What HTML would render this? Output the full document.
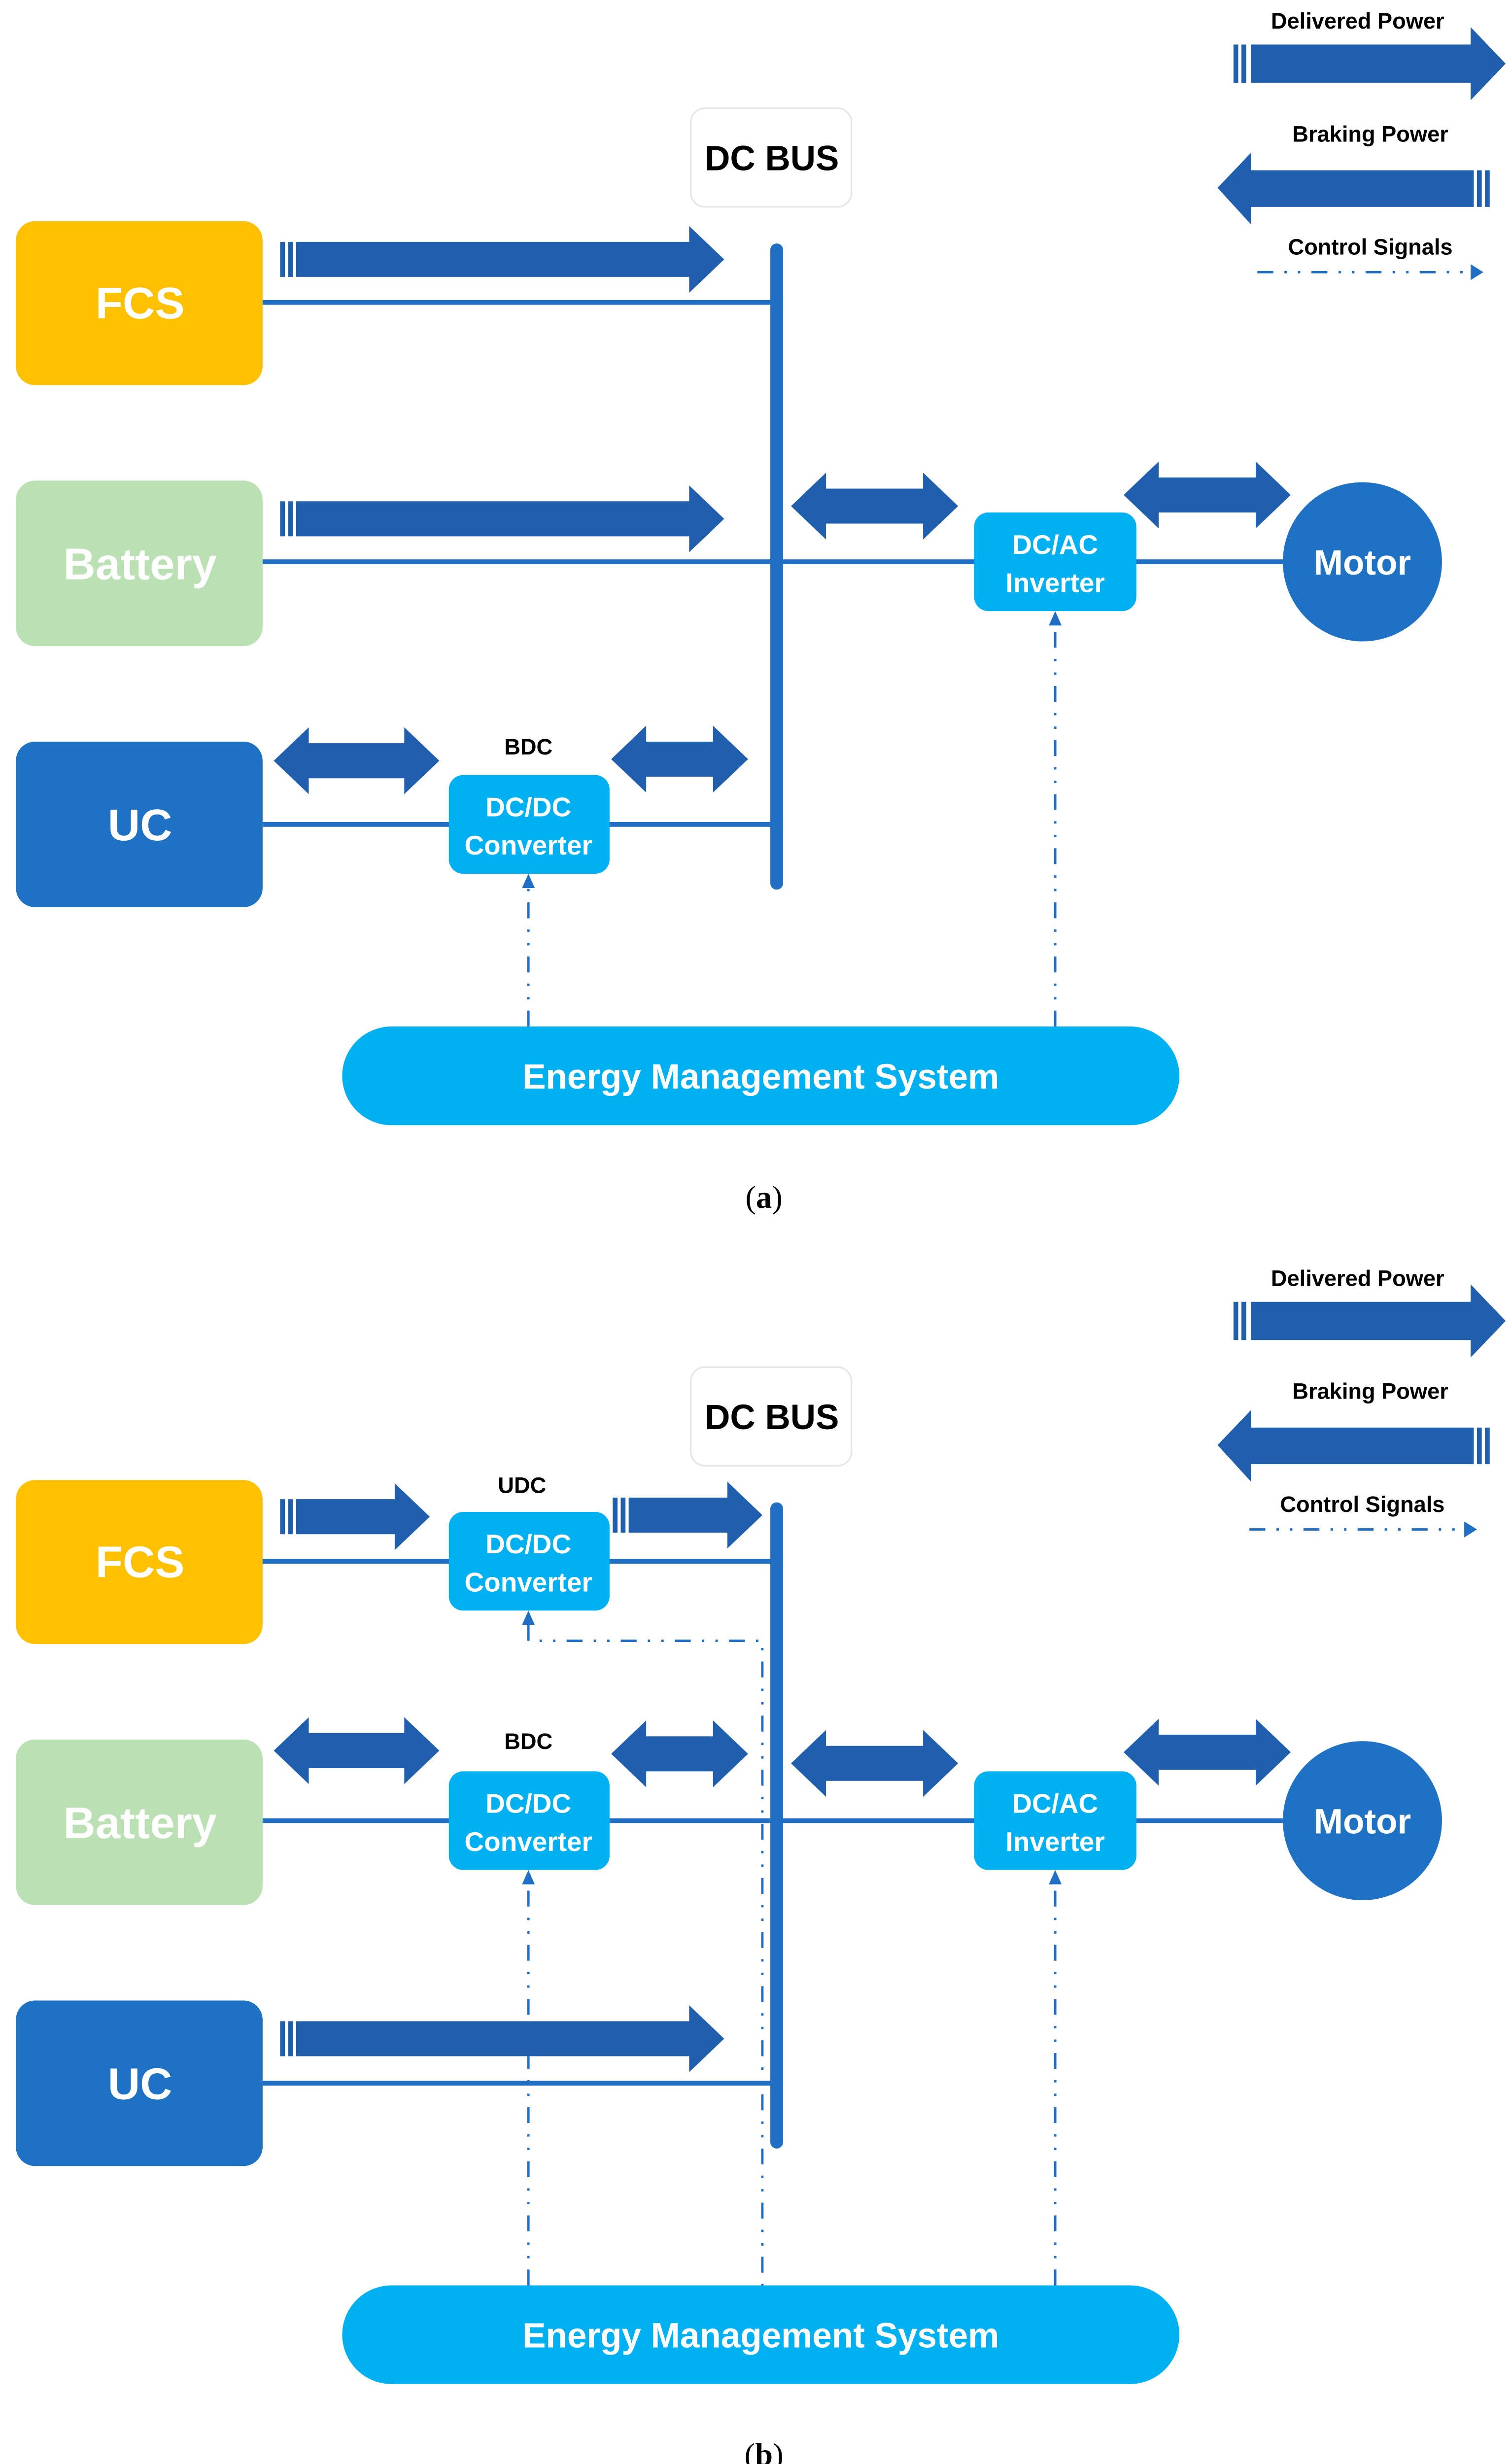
<!DOCTYPE html>
<html><head><meta charset="utf-8"><style>
html,body{margin:0;padding:0;background:#fff;width:3068px;height:5059px;overflow:hidden;}
svg{display:block;position:absolute;left:0;top:0;}
text{font-family:"Liberation Sans",Arial,sans-serif;font-weight:bold;}
</style></head><body>
<svg width="3068" height="5059" viewBox="0 0 950 1566.5" preserveAspectRatio="none" xmlns="http://www.w3.org/2000/svg">
<defs>
<g id="legend">
  <text x="853" y="18" font-size="14" text-anchor="middle" fill="#000">Delivered Power</text>
  <rect x="775" y="28" width="3" height="24" fill="#1F5FAD"/><rect x="780" y="28" width="3" height="24" fill="#1F5FAD"/>
  <path d="M786,28 H924 V17 L946,40 L924,63 V52 H786Z" fill="#1F5FAD"/>
  <text x="861" y="89" font-size="14" text-anchor="middle" fill="#000">Braking Power</text>
  <path d="M765,118 L786,96 V107 H926 V130 H786 V141Z" fill="#1F5FAD"/>
  <rect x="928" y="107" width="3" height="23" fill="#1F5FAD"/><rect x="933" y="107" width="3" height="23" fill="#1F5FAD"/>
</g>
</defs>
<g stroke="none">
<use href="#legend"/>
<text x="861" y="160" font-size="14" text-anchor="middle" fill="#000">Control Signals</text>
<line x1="790" y1="171" x2="925" y2="171" stroke="#1F6FC5" stroke-width="1.5" stroke-dasharray="10 7 1.5 7 1.5 7"/>
<path d="M924,166 L932,171 L924,176Z" fill="#1F6FC5"/>

<rect x="434" y="68" width="101" height="62" rx="9" fill="#fff" stroke="#e6e6e6" stroke-width="1"/>
<text x="485" y="107" font-size="22" text-anchor="middle" fill="#000">DC BUS</text>

<rect x="10" y="139" width="155" height="103" rx="12" fill="#FFC000"/>
<text x="88" y="200" font-size="28" text-anchor="middle" fill="#fff">FCS</text>
<rect x="10" y="302" width="155" height="104" rx="12" fill="#BBE0B3"/>
<text x="88" y="364" font-size="28" text-anchor="middle" fill="#fff">Battery</text>
<rect x="10" y="466" width="155" height="104" rx="12" fill="#1F71C4"/>
<text x="88" y="528" font-size="28" text-anchor="middle" fill="#fff">UC</text>

<g stroke="#1F6FC5" stroke-width="3">
<line x1="165" y1="190" x2="488" y2="190"/>
<line x1="165" y1="353" x2="806" y2="353"/>
<line x1="165" y1="518" x2="488" y2="518"/>
</g>
<line x1="488" y1="157" x2="488" y2="555" stroke="#1F6FC5" stroke-width="8" stroke-linecap="round"/>

<rect x="612" y="322" width="102" height="62" rx="9" fill="#00B0F0"/>
<text x="663" y="348" font-size="17" text-anchor="middle" fill="#fff">DC/AC</text>
<text x="663" y="372" font-size="17" text-anchor="middle" fill="#fff">Inverter</text>
<circle cx="856" cy="353" r="50" fill="#1F71C4"/>
<text x="856" y="361" font-size="22" text-anchor="middle" fill="#fff">Motor</text>

<text x="332" y="474" font-size="14" text-anchor="middle" fill="#000">BDC</text>
<rect x="282" y="487" width="101" height="62" rx="9" fill="#00B0F0"/>
<text x="332" y="513" font-size="17" text-anchor="middle" fill="#fff">DC/DC</text>
<text x="332" y="537" font-size="17" text-anchor="middle" fill="#fff">Converter</text>

<g fill="#1F5FAD">
<rect x="176" y="152" width="3" height="22"/><rect x="181" y="152" width="3" height="22"/>
<path d="M186,152 H433 V142 L455,163 L433,184 V174 H186Z"/>
<rect x="176" y="315" width="3" height="22"/><rect x="181" y="315" width="3" height="22"/>
<path d="M186,315 H433 V305 L455,326 L433,347 V337 H186Z"/>
<path d="M172,478 L194,457 V467 H254 V457 L276,478 L254,499 V489 H194 V499Z"/>
<path d="M384,477 L406,456 V466 H448 V456 L470,477 L448,498 V488 H406 V498Z"/>
<path d="M497,318 L519,297 V307 H580 V297 L602,318 L580,339 V329 H519 V339Z"/>
<path d="M706,311 L728,290 V300 H789 V290 L811,311 L789,332 V322 H728 V332Z"/>
</g>

<g stroke="#1F6FC5" stroke-width="1.5" stroke-dasharray="10 7 1.5 7 1.5 7">
<line x1="332" y1="645" x2="332" y2="558"/>
<line x1="663" y1="645" x2="663" y2="393"/>
</g>
<path d="M332,549 L328,558 L336,558Z" fill="#1F6FC5"/>
<path d="M663,384 L659,393 L667,393Z" fill="#1F6FC5"/>

<rect x="215" y="645" width="526" height="62" rx="31" fill="#00B0F0"/>
<text x="478" y="684" font-size="22" text-anchor="middle" fill="#fff">Energy Management System</text>
<text x="480" y="759" font-size="20" text-anchor="middle" fill="#000" style="font-family:'Liberation Serif',serif;font-weight:normal">(<tspan font-weight="bold">a</tspan>)</text>

<use href="#legend" transform="translate(0,790)"/>
<text x="856" y="950" font-size="14" text-anchor="middle" fill="#000">Control Signals</text>
<line x1="785" y1="961" x2="921" y2="961" stroke="#1F6FC5" stroke-width="1.5" stroke-dasharray="10 7 1.5 7 1.5 7"/>
<path d="M920,956 L928,961 L920,966Z" fill="#1F6FC5"/>

<rect x="434" y="859" width="101" height="62" rx="9" fill="#fff" stroke="#e6e6e6" stroke-width="1"/>
<text x="485" y="898" font-size="22" text-anchor="middle" fill="#000">DC BUS</text>

<rect x="10" y="930" width="155" height="103" rx="12" fill="#FFC000"/>
<text x="88" y="991" font-size="28" text-anchor="middle" fill="#fff">FCS</text>
<rect x="10" y="1093" width="155" height="104" rx="12" fill="#BBE0B3"/>
<text x="88" y="1155" font-size="28" text-anchor="middle" fill="#fff">Battery</text>
<rect x="10" y="1257" width="155" height="104" rx="12" fill="#1F71C4"/>
<text x="88" y="1319" font-size="28" text-anchor="middle" fill="#fff">UC</text>

<g stroke="#1F6FC5" stroke-width="3">
<line x1="165" y1="981" x2="488" y2="981"/>
<line x1="165" y1="1144" x2="806" y2="1144"/>
<line x1="165" y1="1309" x2="488" y2="1309"/>
</g>
<line x1="488" y1="948" x2="488" y2="1346" stroke="#1F6FC5" stroke-width="8" stroke-linecap="round"/>

<g stroke="#1F6FC5" stroke-width="1.5" stroke-dasharray="10 7 1.5 7 1.5 7" fill="none">
<line x1="332" y1="1436" x2="332" y2="1184"/>
<line x1="663" y1="1436" x2="663" y2="1184"/>
<polyline points="332,1021 332,1031 479,1031 479,1436"/>
</g>
<path d="M332,1175 L328,1184 L336,1184Z" fill="#1F6FC5"/>
<path d="M663,1175 L659,1184 L667,1184Z" fill="#1F6FC5"/>
<path d="M332,1012 L328,1021 L336,1021Z" fill="#1F6FC5"/>

<text x="328" y="938" font-size="14" text-anchor="middle" fill="#000">UDC</text>
<rect x="282" y="950" width="101" height="62" rx="9" fill="#00B0F0"/>
<text x="332" y="976" font-size="17" text-anchor="middle" fill="#fff">DC/DC</text>
<text x="332" y="1000" font-size="17" text-anchor="middle" fill="#fff">Converter</text>

<text x="332" y="1099" font-size="14" text-anchor="middle" fill="#000">BDC</text>
<rect x="282" y="1113" width="101" height="62" rx="9" fill="#00B0F0"/>
<text x="332" y="1139" font-size="17" text-anchor="middle" fill="#fff">DC/DC</text>
<text x="332" y="1163" font-size="17" text-anchor="middle" fill="#fff">Converter</text>

<rect x="612" y="1113" width="102" height="62" rx="9" fill="#00B0F0"/>
<text x="663" y="1139" font-size="17" text-anchor="middle" fill="#fff">DC/AC</text>
<text x="663" y="1163" font-size="17" text-anchor="middle" fill="#fff">Inverter</text>
<circle cx="856" cy="1144" r="50" fill="#1F71C4"/>
<text x="856" y="1152" font-size="22" text-anchor="middle" fill="#fff">Motor</text>

<g fill="#1F5FAD">
<rect x="176" y="942" width="3" height="22"/><rect x="181" y="942" width="3" height="22"/>
<path d="M186,942 H248 V932 L270,953 L248,974 V964 H186Z"/>
<rect x="385" y="941" width="3" height="22"/><rect x="390" y="941" width="3" height="22"/>
<path d="M395,941 H457 V931 L479,952 L457,973 V963 H395Z"/>
<path d="M172,1100 L194,1079 V1089 H254 V1079 L276,1100 L254,1121 V1111 H194 V1121Z"/>
<path d="M384,1102 L406,1081 V1091 H448 V1081 L470,1102 L448,1123 V1113 H406 V1123Z"/>
<path d="M497,1108 L519,1087 V1097 H580 V1087 L602,1108 L580,1129 V1119 H519 V1129Z"/>
<path d="M706,1101 L728,1080 V1090 H789 V1080 L811,1101 L789,1122 V1112 H728 V1122Z"/>
<rect x="176" y="1270" width="3" height="22"/><rect x="181" y="1270" width="3" height="22"/>
<path d="M186,1270 H433 V1260 L455,1281 L433,1302 V1292 H186Z"/>
</g>

<rect x="215" y="1436" width="526" height="62" rx="31" fill="#00B0F0"/>
<text x="478" y="1475" font-size="22" text-anchor="middle" fill="#fff">Energy Management System</text>
<text x="480" y="1549" font-size="20" text-anchor="middle" fill="#000" style="font-family:'Liberation Serif',serif;font-weight:normal">(<tspan font-weight="bold">b</tspan>)</text>
</g>
</svg>
</body></html>
